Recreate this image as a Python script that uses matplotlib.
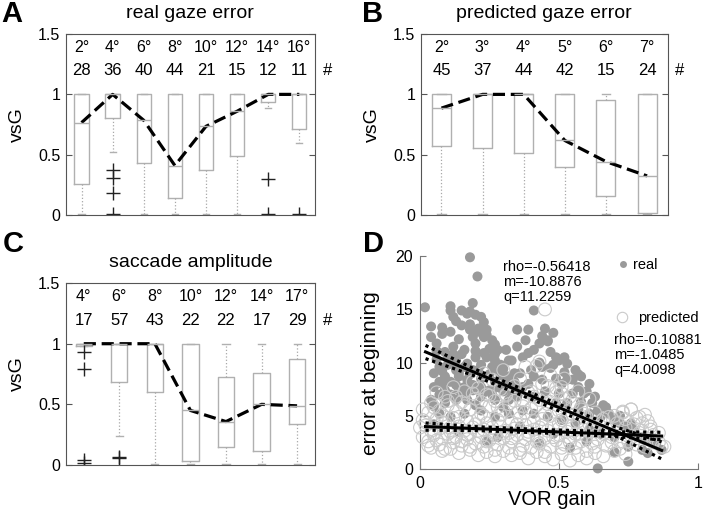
import numpy as np
import matplotlib.pyplot as plt
from matplotlib.lines import Line2D

plt.rcParams['font.family'] = ['Liberation Sans', 'DejaVu Sans']

# --- A: real gaze error ---
a_deg = ['2°', '4°', '6°', '8°', '10°', '12°', '14°', '16°']
a_n = [28, 36, 40, 44, 21, 15, 12, 11]
a_med = [0.766, 1.0, 0.785, 0.41, 0.735, 0.86, 1.0, 1.0]
a_q1 = [0.26, 0.807, 0.43, 0.14, 0.37, 0.49, 0.94, 0.71]
a_q3 = [1.0, 1.0, 1.0, 1.0, 1.0, 1.0, 1.0, 1.0]
a_lo = [0.01, 0.52, 0.01, 0.01, 0.01, 0.01, 0.89, 0.6]
a_hi = [1.0, 1.0, 1.0, 1.0, 1.0, 1.0, 1.0, 1.0]
a_out = [[], [0.37, 0.31, 0.18, 0.01], [], [], [], [], [0.30, 0.01], [0.01]]

# --- B: predicted gaze error ---
b_deg = ['2°', '3°', '4°', '5°', '6°', '7°']
b_n = [45, 37, 44, 42, 15, 24]
b_med = [0.886, 1.0, 1.0, 0.618, 0.443, 0.324]
b_q1 = [0.568, 0.554, 0.518, 0.396, 0.16, 0.015]
b_q3 = [1.0, 1.0, 1.0, 1.0, 0.95, 1.0]
b_lo = [0.01, 0.01, 0.01, 0.01, 0.01, 0.01]
b_hi = [1.0, 1.0, 1.0, 1.0, 1.0, 1.0]
b_out = [[], [], [], [], [], []]

# --- C: saccade amplitude ---
c_deg = ['4°', '6°', '8°', '10°', '12°', '14°', '17°']
c_n = [17, 57, 43, 22, 22, 17, 29]
c_med = [1.0, 1.0, 1.0, 0.45, 0.358, 0.50, 0.488]
c_q1 = [0.98, 0.683, 0.6, 0.033, 0.15, 0.116, 0.339]
c_q3 = [1.0, 1.0, 1.0, 1.0, 0.722, 0.758, 0.873]
c_lo = [0.98, 0.24, 0.01, 0.01, 0.01, 0.01, 0.01]
c_hi = [1.0, 1.0, 1.0, 1.0, 1.0, 1.0, 1.0]
c_out = [[0.93, 0.79, 0.04, 0.015], [0.07, 0.06], [], [], [], [], []]

# --- D: error at beginning vs VOR gain ---
real_x = [0.18, 0.207, 0.018, 0.41, 0.46, 0.48,
          0.04, 0.04, 0.08, 0.08, 0.11, 0.11, 0.11, 0.15, 0.17, 0.19, 0.18, 0.2, 0.22, 0.23,
          0.21, 0.12, 0.16, 0.19, 0.23, 0.26, 0.25, 0.28, 0.14, 0.06, 0.09, 0.24, 0.18, 0.13, 0.2,
          0.27, 0.23, 0.2, 0.13, 0.1, 0.13, 0.16, 0.19, 0.22, 0.26, 0.29, 0.32, 0.29, 0.32, 0.27,
          0.22, 0.17, 0.14, 0.09, 0.07, 0.05, 0.09, 0.14, 0.16, 0.19, 0.22, 0.25, 0.28, 0.31, 0.34,
          0.33, 0.37, 0.39, 0.06, 0.12, 0.08,
          0.35, 0.32, 0.27, 0.22, 0.17, 0.13, 0.09, 0.05, 0.04, 0.37, 0.32, 0.27, 0.22, 0.16, 0.11,
          0.07, 0.2, 0.3, 0.11,
          0.35, 0.39, 0.45, 0.46, 0.38, 0.41, 0.35, 0.31, 0.33, 0.37, 0.49, 0.5, 0.44, 0.47, 0.52,
          0.56, 0.53, 0.41, 0.44, 0.49, 0.51, 0.55, 0.58, 0.57, 0.61, 0.59, 0.55, 0.5, 0.45, 0.41,
          0.49, 0.53, 0.58, 0.62, 0.4, 0.36,
          0.64, 0.61, 0.65, 0.68, 0.7, 0.72, 0.74, 0.76, 0.77, 0.8, 0.82, 0.85, 0.87, 0.8, 0.75,
          0.7, 0.64, 0.75, 0.82, 0.7, 0.65, 0.61, 0.56, 0.51, 0.46, 0.41, 0.66, 0.6, 0.54, 0.48,
          0.05, 0.14, 0.28, 0.36, 0.24, 0.43,
          0.06, 0.07, 0.1, 0.12, 0.15, 0.17, 0.2, 0.24, 0.27, 0.3,
          0.05, 0.08, 0.11, 0.14, 0.18, 0.21, 0.25, 0.28, 0.31, 0.34,
          0.07, 0.1, 0.13, 0.16, 0.19, 0.23, 0.26, 0.3, 0.33, 0.36,
          0.12, 0.15, 0.18, 0.21, 0.24, 0.27,
          0.43, 0.47, 0.52, 0.57, 0.43, 0.48, 0.53, 0.6, 0.39, 0.44,
          0.63, 0.67, 0.72, 0.57]
real_y = [19.9, 18.1, 15.2, 14.9, 12.0, 12.8,
          13.4, 12.4, 13.3, 12.7, 12.9, 15.3, 14.9, 13.5, 14.6, 15.6, 14.8, 14.5, 14.3, 13.8,
          13.2, 11.5, 11.2, 12.4, 12.4, 12.1, 11.3, 11.2, 12.2, 11.8, 11.0, 13.1, 13.6, 13.9, 11.8,
          10.2, 10.9, 10.5, 10.2, 9.8, 9.3, 9.6, 9.3, 9.8, 9.6, 9.8, 10.2, 8.8, 8.7, 8.2,
          8.5, 8.4, 8.7, 8.7, 8.2, 7.7, 7.4, 7.4, 7.7, 7.4, 7.7, 7.4, 7.7, 7.9, 8.2,
          7.4, 7.7, 8.0, 10.3, 10.8, 9.2,
          6.8, 6.5, 6.5, 6.8, 6.5, 6.5, 6.2, 5.9, 6.5, 5.5, 5.2, 4.9, 5.5, 5.2, 4.9,
          5.2, 6.0, 5.8, 7.0,
          13.1, 13.1, 13.2, 12.1, 12.1, 11.2, 11.5, 11.2, 10.2, 10.5, 10.5, 10.2, 9.6, 9.5, 9.1,
          9.3, 9.9, 8.7, 8.4, 8.5, 8.0, 8.4, 8.7, 7.7, 8.0, 7.1, 7.1, 7.1, 7.3, 6.8,
          6.2, 6.2, 6.3, 6.2, 9.3, 9.0,
          5.5, 5.2, 4.9, 5.2, 4.6, 4.3, 4.0, 4.3, 3.7, 3.0, 2.7, 2.3, 1.8, 1.8, 2.1,
          1.6, 0.06, 0.7, 1.5, 3.0, 3.3, 3.7, 4.3, 4.6, 4.9, 5.2, 6.0, 2.6, 2.0, 3.3,
          4.2, 3.5, 3.0, 4.0, 2.6, 2.4,
          11.1, 9.6, 10.4, 9.9, 10.8, 9.9, 11.1, 10.5, 10.8, 9.4,
          9.0, 8.0, 8.2, 9.0, 8.9, 9.3, 8.9, 9.3, 8.4, 9.0,
          7.0, 6.9, 7.9, 7.0, 7.9, 7.2, 7.0, 7.3, 6.8, 7.3,
          14.3, 14.9, 13.1, 12.9, 12.6, 11.7,
          11.8, 11.0, 10.5, 8.9, 10.0, 9.8, 8.4, 7.3, 10.9, 12.5,
          6.8, 5.8, 5.0, 5.6]

pred_x = [0.45, 0.43, 0.42, 0.52, 0.51, 0.46,
          0.01, 0.03, 0.05, 0.08, 0.1, 0.13, 0.15, 0.18, 0.2, 0.22, 0.25, 0.27, 0.3, 0.32, 0.35,
          0.37, 0.4, 0.42, 0.45, 0.47, 0.5, 0.52, 0.55, 0.58, 0.6, 0.63, 0.66, 0.7, 0.73, 0.76,
          0.79, 0.82,
          0.06, 0.09, 0.12, 0.16, 0.19, 0.21, 0.24, 0.26, 0.29, 0.31, 0.34, 0.36, 0.39, 0.41, 0.44,
          0.47, 0.49, 0.51, 0.54, 0.57, 0.61, 0.3, 0.38, 0.23,
          0.0, 0.02, 0.04, 0.06, 0.07, 0.09, 0.11, 0.12, 0.14, 0.16, 0.17, 0.19, 0.21, 0.23, 0.24,
          0.26, 0.28, 0.29, 0.31, 0.33, 0.34, 0.36, 0.38, 0.39, 0.41, 0.43, 0.44, 0.46, 0.48, 0.5,
          0.51, 0.53, 0.55, 0.57, 0.59, 0.61, 0.63, 0.65, 0.68, 0.71, 0.74, 0.77, 0.8, 0.83, 0.86,
          0.01, 0.03, 0.05, 0.07, 0.08, 0.1, 0.12, 0.13, 0.15, 0.17, 0.18, 0.2, 0.22, 0.23, 0.25,
          0.27, 0.28, 0.3, 0.32, 0.33, 0.35, 0.37, 0.38, 0.4, 0.42, 0.43, 0.45, 0.47, 0.49, 0.5,
          0.52, 0.54, 0.56, 0.58, 0.6, 0.62, 0.64, 0.67, 0.69, 0.72, 0.75, 0.78, 0.81, 0.84, 0.87,
          0.04, 0.08, 0.11, 0.14, 0.18, 0.21, 0.24, 0.27, 0.3, 0.33, 0.36, 0.39, 0.42, 0.45, 0.48,
          0.51, 0.54, 0.57, 0.6, 0.63, 0.66, 0.7, 0.74,
          0.73, 0.78, 0.81, 0.84, 0.86, 0.88, 0.79, 0.76,
          0.02, 0.05, 0.08, 0.11, 0.14, 0.17, 0.2, 0.23, 0.26, 0.29, 0.32, 0.35, 0.38, 0.41,
          0.44, 0.47, 0.5, 0.53, 0.56, 0.59, 0.62, 0.65, 0.68, 0.71, 0.74, 0.77, 0.8, 0.83,
          0.03, 0.06, 0.09, 0.12, 0.15, 0.18, 0.21, 0.24, 0.27, 0.3, 0.33, 0.36, 0.39, 0.42,
          0.45, 0.48, 0.51, 0.54, 0.57, 0.6, 0.63, 0.66, 0.69, 0.72, 0.75, 0.78, 0.81, 0.84,
          0.01, 0.04, 0.07, 0.1, 0.13, 0.16, 0.19, 0.22, 0.25, 0.28, 0.31, 0.34, 0.37, 0.4,
          0.43, 0.46, 0.49, 0.52, 0.55, 0.58]
pred_y = [15.0, 10.1, 9.7, 8.5, 7.7, 7.8,
          4.6, 5.3, 5.8, 5.1, 6.0, 5.4, 6.3, 5.6, 6.6, 5.2, 5.9, 6.4, 5.5, 6.1, 5.3,
          6.5, 5.7, 6.0, 5.2, 6.3, 5.5, 5.9, 5.1, 5.6, 4.9, 5.3, 4.7, 5.0, 5.4, 5.6,
          4.9, 4.5,
          7.2, 6.8, 7.7, 7.3, 8.2, 7.6, 7.0, 8.4, 7.5, 6.9, 7.8, 8.5, 7.2, 6.8, 8.0,
          8.8, 7.6, 7.1, 6.8, 7.3, 6.6, 9.3, 9.6, 9.0,
          3.9, 4.4, 3.6, 4.7, 3.8, 4.3, 3.5, 4.8, 4.0, 3.6, 4.5, 3.9, 4.7, 3.7, 4.3,
          3.5, 4.6, 4.0, 3.6, 4.4, 3.8, 4.8, 4.1, 3.5, 4.5, 3.9, 4.7, 3.6, 4.2, 3.8,
          4.6, 3.5, 4.1, 4.5, 3.7, 4.2, 3.6, 4.0, 3.8, 4.3, 3.9, 4.2, 3.6, 4.0, 3.4,
          3.0, 2.6, 3.2, 2.3, 2.9, 3.3, 2.5, 3.0, 2.2, 2.8, 3.3, 2.4, 3.0, 2.1, 2.7,
          3.2, 2.3, 2.9, 2.0, 2.6, 3.2, 2.2, 2.8, 2.0, 3.1, 2.4, 2.9, 2.1, 2.7, 3.2,
          2.3, 2.9, 2.0, 2.6, 3.1, 2.4, 2.8, 2.2, 3.0, 2.6, 3.1, 2.3, 2.9, 2.5, 2.1,
          2.0, 1.7, 1.9, 1.5, 1.8, 1.3, 1.6, 1.2, 1.7, 1.3, 1.5, 1.0, 1.6, 1.2, 0.9,
          1.4, 0.8, 1.3, 1.0, 1.5, 1.2, 1.7, 1.4,
          5.3, 4.8, 5.1, 3.2, 2.5, 2.1, 3.4, 5.6,
          4.1, 3.4, 4.4, 3.9, 4.9, 3.2, 4.2, 5.0, 3.9, 5.1, 3.4, 4.2, 5.3, 3.7,
          4.1, 5.0, 4.3, 4.9, 3.3, 5.2, 3.9, 4.5, 4.9, 3.5, 4.7, 3.1, 4.3, 3.7,
          2.2, 2.7, 1.9, 2.9, 2.6, 2.1, 3.6, 2.6, 1.8, 3.4, 2.9, 1.8, 3.2, 2.6,
          1.6, 3.0, 2.0, 2.5, 3.3, 1.7, 2.1, 3.3, 2.5, 1.9, 2.6, 2.9, 2.1, 2.7,
          5.6, 6.2, 5.5, 6.4, 6.8, 5.9, 7.1, 6.3, 6.9, 5.8, 7.0, 6.4, 5.9, 7.3,
          6.5, 6.1, 7.2, 6.6, 6.2, 5.8]

real_rho, real_m, real_q = -0.56418, -10.8876, 11.2259
pred_rho, pred_m, pred_q = -0.10881, -1.0485, 4.0098
fit_x = [0.02, 0.2, 0.45, 0.7, 0.87]
real_up = [11.62, 9.36, 6.62, 4.0, 2.55]
real_lo = [10.38, 8.72, 6.02, 3.2, 0.95]
pred_up = [4.33, 3.98, 3.70, 3.50, 3.45]
pred_lo = [3.65, 3.62, 3.38, 3.05, 2.75]

BOX = '#b0b0b0'
FRAME = '#555555'


def box_panel(ax, deg, n, med, q1, q3, lo, hi, out, title):
    stats = []
    for i in range(len(deg)):
        stats.append(dict(med=med[i], q1=q1[i], q3=q3[i], whislo=lo[i], whishi=hi[i], fliers=out[i]))
    pos = np.arange(1, len(deg) + 1)
    ax.bxp(stats, positions=pos, widths=0.46, capwidths=0.2, showfliers=True,
           boxprops=dict(color=BOX, lw=1.0),
           whiskerprops=dict(color='#a8a8a8', lw=0.9, ls=':'),
           capprops=dict(color=BOX, lw=1.0),
           medianprops=dict(color=BOX, lw=1.0),
           flierprops=dict(marker='+', markeredgecolor='#222222', markersize=10, mew=1.0))
    ax.plot(pos, med, color='k', lw=2.3, ls=(0, (3.8, 1.8)))
    ax.set_xlim(0.5, len(deg) + 0.5)
    ax.set_ylim(0, 1.5)
    ax.set_xticks([])
    ax.set_yticks([0, 0.5, 1, 1.5])
    ax.set_yticklabels(['0', '0.5', '1', '1.5'])
    ax.tick_params(axis='y', direction='in', right=True, length=4, labelsize=11.5,
                   color=FRAME, pad=4)
    for s in ax.spines.values():
        s.set_color(FRAME)
        s.set_linewidth(0.8)
    for i in range(len(deg)):
        ax.text(pos[i], 1.39, deg[i], ha='center', va='center', fontsize=11.5)
        ax.text(pos[i], 1.195, str(n[i]), ha='center', va='center', fontsize=12)
    ax.text(1.05, 1.195, '#', transform=ax.get_yaxis_transform(), ha='center', va='center',
            fontsize=12, clip_on=False)
    ax.set_ylabel('vsG', fontsize=14)
    ax.yaxis.set_label_coords(-0.16, 0.5)
    ax.text(0.5, 1.115, title, transform=ax.transAxes, ha='center', va='center', fontsize=14)


fig = plt.figure(figsize=(7.05, 5.14), dpi=100)

axA = fig.add_axes([0.0936, 0.5817, 0.353, 0.352])
axB = fig.add_axes([0.597, 0.5817, 0.350, 0.352])
axC = fig.add_axes([0.0936, 0.0953, 0.353, 0.354])
axD = fig.add_axes([0.5957, 0.0875, 0.394, 0.414])

box_panel(axA, a_deg, a_n, a_med, a_q1, a_q3, a_lo, a_hi, a_out, 'real gaze error')
box_panel(axB, b_deg, b_n, b_med, b_q1, b_q3, b_lo, b_hi, b_out, 'predicted gaze error')
box_panel(axC, c_deg, c_n, c_med, c_q1, c_q3, c_lo, c_hi, c_out, 'saccade amplitude')

# panel D scatter
axD.scatter(real_x, real_y, s=52, color='#9a9a9a', edgecolors='none', zorder=2, clip_on=False)
axD.scatter(pred_x, pred_y, s=85, facecolors='none', edgecolors='#cacaca', linewidths=0.8,
            zorder=3, clip_on=False)

ends = np.array([fit_x[0], fit_x[-1]])
axD.plot(ends, real_q + real_m * ends, color='k', lw=2.2, zorder=5)
axD.plot(ends, pred_q + pred_m * ends, color='k', lw=2.2, zorder=5)
for band in (real_up, real_lo, pred_up, pred_lo):
    axD.plot(fit_x, band, color='k', lw=2.3, ls=(0, (1, 1.2)), dash_capstyle='butt', zorder=5)

axD.set_xlim(0, 1)
axD.set_ylim(0, 20)
axD.set_xticks([0, 0.5, 1])
axD.set_xticklabels(['0', '0.5', '1'])
axD.set_yticks([0, 5, 10, 15, 20])
axD.tick_params(direction='in', length=4, labelsize=11.5, color='#777777', pad=5)
axD.spines['top'].set_visible(False)
axD.spines['right'].set_visible(False)
axD.spines['left'].set_color('#777777')
axD.spines['bottom'].set_color('#777777')
axD.set_xlabel('VOR gain', fontsize=14.5)
axD.xaxis.set_label_coords(0.475, -0.1)
axD.set_ylabel('error at beginning', fontsize=15)
axD.yaxis.set_label_coords(-0.145, 0.45)

axD.text(0.30, 17.6, f'rho={real_rho}\nm={real_m}\nq={real_q}', ha='left', va='center',
         fontsize=10.5, linespacing=1.1)
axD.text(0.70, 10.7, f'rho={pred_rho}\nm={pred_m}\nq={pred_q}', ha='left', va='center',
         fontsize=10.5, linespacing=1.1)

h_real = Line2D([], [], ls='none', marker='o', markersize=5, markerfacecolor='#9a9a9a',
                markeredgecolor='none')
h_pred = Line2D([], [], ls='none', marker='o', markersize=7.5, markerfacecolor='none',
                markeredgecolor='#cacaca', markeredgewidth=0.8)
leg1 = axD.legend([h_real], ['real'], loc='center left', bbox_to_anchor=(0.704, 0.958),
                  frameon=False, handlelength=1.0, handletextpad=0.2, borderpad=0,
                  borderaxespad=0, fontsize=10.5)
axD.add_artist(leg1)
axD.legend([h_pred], ['predicted'], loc='center left', bbox_to_anchor=(0.70, 0.709),
           frameon=False, handlelength=1.0, handletextpad=0.6, borderpad=0,
           borderaxespad=0, fontsize=10.5)

# panel letters
for lab, x, y in [('A', 0.002, 0.973), ('B', 0.513, 0.973), ('C', 0.004, 0.525), ('D', 0.515, 0.525)]:
    fig.text(x, y, lab, fontsize=21, fontweight='bold', ha='left', va='center')

fig.savefig('out.png', dpi=100)
